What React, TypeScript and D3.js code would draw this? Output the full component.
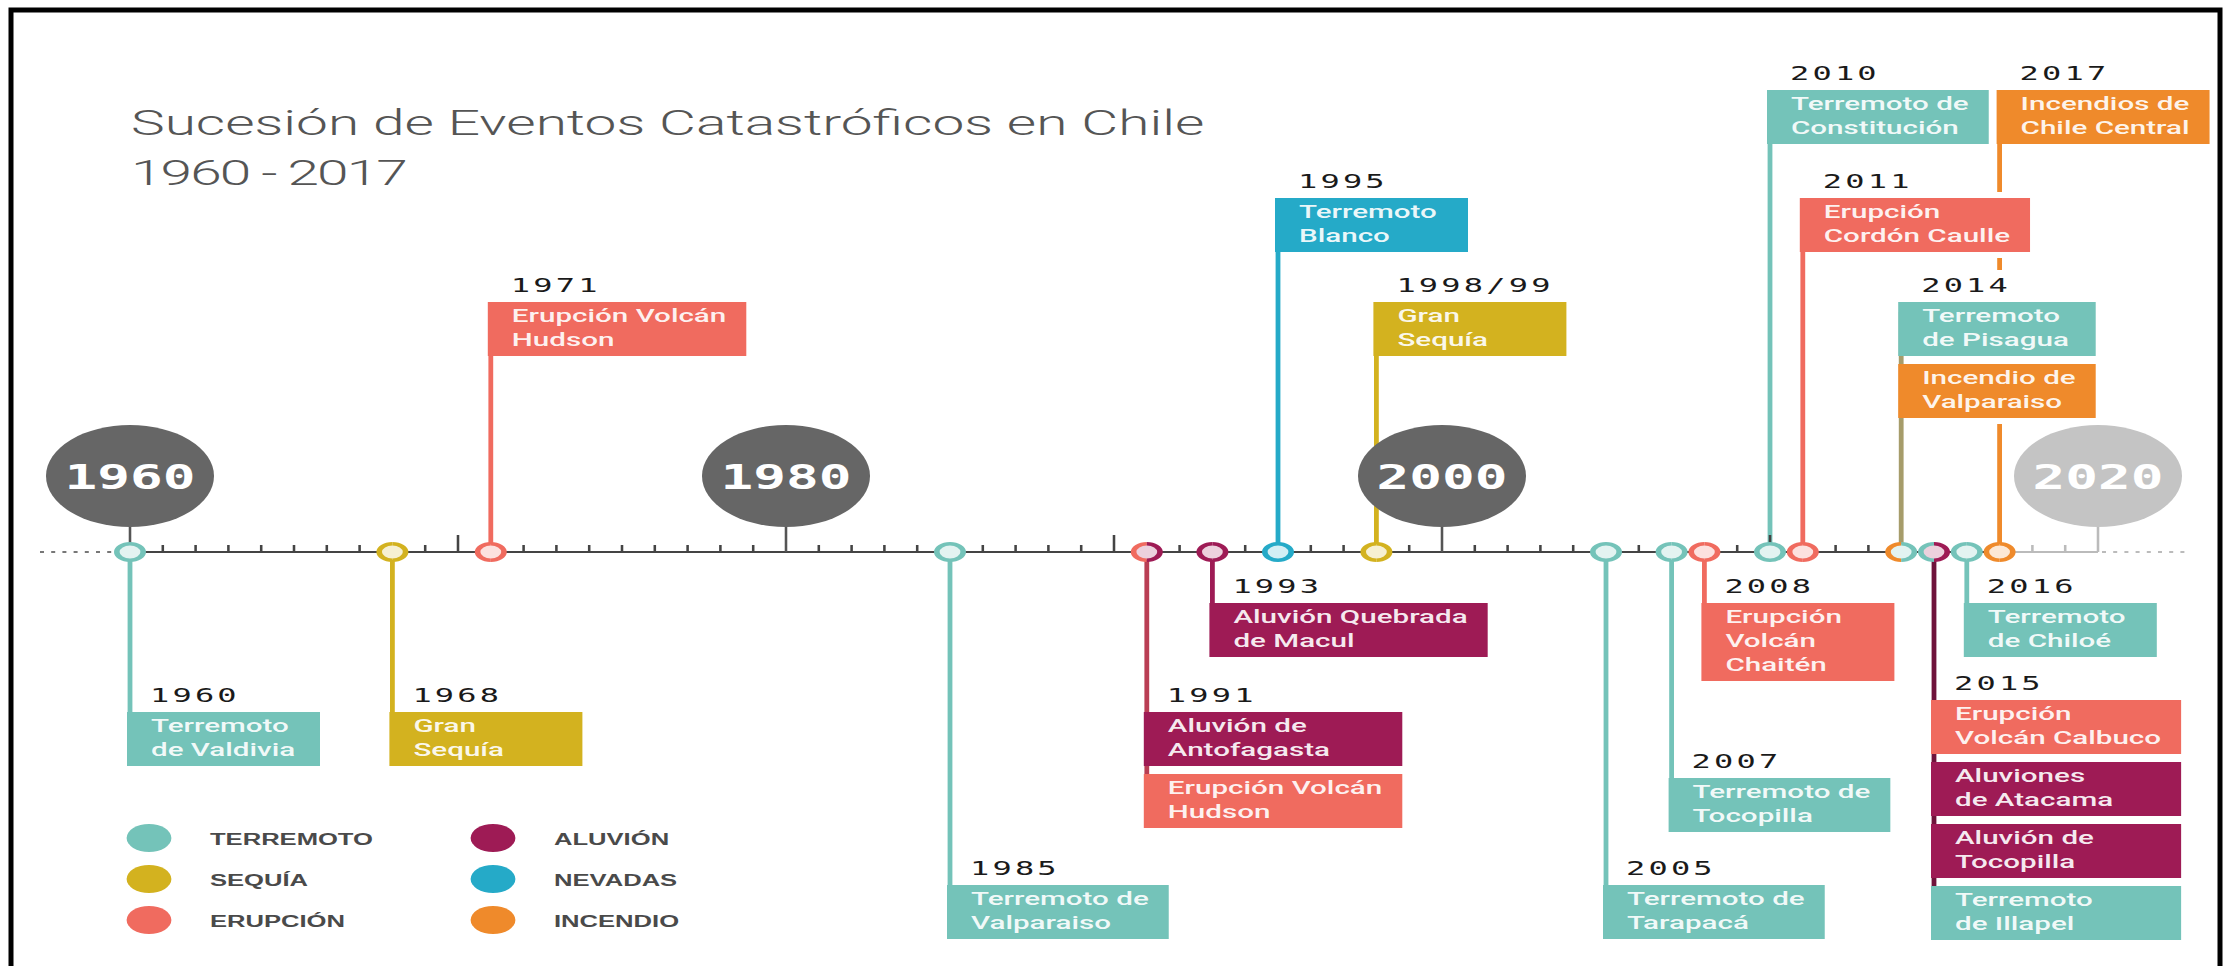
import React, { useRef, useEffect } from "react"
import * as d3 from "d3"

// the reference is stretched horizontally, so everything is drawn in a group scaled by SX
const W = 2223
const H = 966
const SX = 1.6

// categories
const categories = ["terremoto", "sequia", "erupcion", "aluvion", "nevadas", "incendio"]
const categoryNames = ["TERREMOTO", "SEQUÍA", "ERUPCIÓN", "ALUVIÓN", "NEVADAS", "INCENDIO"]
const categoryColors = ["#74c3b9", "#d3b21f", "#f06b5f", "#9e1b55", "#25aac8", "#ef8a2b"]

// events
const eventYears = [1960, 1968, 1971, 1985, 1991, 1993, 1995, 1998, 2005, 2007, 2008, 2010, 2011, 2014, 2015, 2016, 2017]
const yearLabels = ["1960", "1968", "1971", "1985", "1991", "1993", "1995", "1998/99", "2005", "2007", "2008", "2010", "2011", "2014", "2015", "2016", "2017"]
const eventTypes = [
  ["terremoto"],
  ["sequia"],
  ["erupcion"],
  ["terremoto"],
  ["aluvion", "erupcion"],
  ["aluvion"],
  ["nevadas"],
  ["sequia"],
  ["terremoto"],
  ["terremoto"],
  ["erupcion"],
  ["terremoto"],
  ["erupcion"],
  ["terremoto", "incendio"],
  ["erupcion", "aluvion", "aluvion", "terremoto"],
  ["terremoto"],
  ["incendio"],
]
const eventTexts = [
  [["Terremoto", "de Valdivia"]],
  [["Gran", "Sequía"]],
  [["Erupción Volcán", "Hudson"]],
  [["Terremoto de", "Valparaiso"]],
  [["Aluvión de", "Antofagasta"], ["Erupción Volcán", "Hudson"]],
  [["Aluvión Quebrada", "de Macul"]],
  [["Terremoto", "Blanco"]],
  [["Gran", "Sequía"]],
  [["Terremoto de", "Tarapacá"]],
  [["Terremoto de", "Tocopilla"]],
  [["Erupción", "Volcán", "Chaitén"]],
  [["Terremoto de", "Constitución"]],
  [["Erupción", "Cordón Caulle"]],
  [["Terremoto", "de Pisagua"], ["Incendio de", "Valparaiso"]],
  [["Erupción", "Volcán Calbuco"], ["Aluviones", "de Atacama"], ["Aluvión de", "Tocopilla"], ["Terremoto", "de Illapel"]],
  [["Terremoto", "de Chiloé"]],
  [["Incendios de", "Chile Central"]],
]

const decadeYears = [1960, 1980, 2000, 2020]
const titleLines = ["Sucesión de Eventos Catastróficos en Chile", "1960 - 2017"]

// layout (pixels of the picture)
const AXIS_Y = 552
const tierTop = [90, 198, 302, 603, 700, 712, 778, 885]
const eventTier = [5, 5, 2, 7, 5, 3, 1, 2, 7, 6, 3, 0, 1, 2, 4, 3, 0]
const LINE_H = 24
const BOX_PAD = 6
const BOX_GAP = 8

const App: React.FC = () => {
  const svgRef = useRef<SVGSVGElement | null>(null)

  useEffect(() => {
    if (!svgRef.current) return
    const svg = d3.select(svgRef.current)
    svg.selectAll("*").remove()

    const u = (v: number) => v / SX
    const color = d3.scaleOrdinal<string, string>().domain(categories).range(categoryColors)
    const x = d3.scaleLinear().domain([1960, 2020]).range([u(130), u(2098)])

    svg.append("rect").attr("width", W).attr("height", H).attr("fill", "#fff")

    // frame
    svg
      .append("path")
      .attr("d", `M11,${H} L11,10 L2220,10 L2220,${H}`)
      .attr("fill", "none")
      .attr("stroke", "#000")
      .attr("stroke-width", 5)

    const g = svg.append("g").attr("transform", `scale(${SX},1)`)

    // title
    const title = g
      .append("text")
      .attr("font-family", "Roboto")
      .attr("font-weight", 300)
      .attr("font-size", 35.5)
      .attr("fill", "#555")
    titleLines.forEach((t, i) => {
      title
        .append("tspan")
        .attr("x", u(131))
        .attr("y", 135 + i * 50)
        .attr("letter-spacing", i === 0 ? 0 : -1.2)
        .text(t)
    })

    // text measuring
    const boxFont = (s: d3.Selection<SVGTextElement, unknown, null, undefined>) =>
      s.attr("font-family", "Roboto").attr("font-weight", 500).attr("font-size", 18.5)
    const labelFont = (s: d3.Selection<SVGTextElement, unknown, null, undefined>) =>
      s.attr("font-family", "DejaVu Sans Mono").attr("font-size", 20).attr("letter-spacing", 2)
    const measure = (t: string, font: typeof boxFont) => {
      const el = g.append("text").call(font).text(t)
      const w = (el.node() as SVGTextElement).getComputedTextLength()
      el.remove()
      return w
    }

    const groups = eventYears.map((year, i) => {
      const tier = eventTier[i]
      const above = tier < 3
      const boxes = eventTypes[i].map((cat, j) => ({ cat, lines: eventTexts[i][j], y: 0, h: 0 }))
      let y = tierTop[tier]
      boxes.forEach((b) => {
        b.y = y
        b.h = BOX_PAD + b.lines.length * LINE_H
        y += b.h + BOX_GAP
      })
      const textW = d3.max(boxes.flatMap((b) => b.lines.map((l) => measure(l, boxFont)))) || 0
      const width = Math.max(u(193), textW + u(44))
      const counts = d3.rollups(boxes, (v) => v.length, (b) => b.cat).sort((a, b) => b[1] - a[1])
      const tied = counts.filter((c) => c[1] === counts[0][1])
      const stemColor =
        tied.length > 1
          ? d3.rgb(d3.interpolateRgb(color(tied[0][0]), color(tied[1][0]))(0.5)).darker(0.2).toString()
          : d3.rgb(color(counts[0][0])).darker(counts[0][1] > 1 ? 1 : 0).toString()
      return {
        year,
        label: yearLabels[i],
        tier,
        above,
        boxes,
        width,
        labelW: measure(yearLabels[i], labelFont),
        stemColor,
        leftCat: boxes[boxes.length - 1].cat,
        rightCat: counts[0][0],
      }
    })

    // far tiers first so nearer labels hide the stems that pass behind them
    const order = groups
      .slice()
      .sort((a, b) => Math.abs(tierTop[b.tier] - AXIS_Y) - Math.abs(tierTop[a.tier] - AXIS_Y))

    order.forEach((d) => {
      const cx = x(d.year)
      const left = cx - u(3)
      const first = d.boxes[0]
      const last = d.boxes[d.boxes.length - 1]
      const gg = g.append("g")

      gg.append("rect")
        .attr("x", left - u(6))
        .attr("y", first.y - 32)
        .attr("width", d.labelW + u(23) + u(14))
        .attr("height", 32)
        .attr("fill", "#fff")
      gg.append("rect")
        .attr("x", left - u(6))
        .attr("y", first.y - 6)
        .attr("width", d.width + u(12))
        .attr("height", last.y + last.h - first.y + 12)
        .attr("fill", "#fff")

      const far = d.above ? first : last
      gg.append("line")
        .attr("x1", cx)
        .attr("x2", cx)
        .attr("y1", AXIS_Y)
        .attr("y2", far.y + 10)
        .attr("stroke", d.stemColor)
        .attr("stroke-width", 3)

      d.boxes.forEach((b) => {
        gg.append("rect")
          .attr("x", left)
          .attr("y", b.y)
          .attr("width", d.width)
          .attr("height", b.h)
          .attr("fill", color(b.cat))
        b.lines.forEach((l, k) => {
          gg.append("text")
            .call(boxFont)
            .attr("x", left + u(24))
            .attr("y", b.y + 20 + k * LINE_H)
            .attr("fill", "#fff")
            .attr("fill-opacity", 0.92)
            .text(l)
        })
      })

      gg.append("text")
        .call(labelFont)
        .attr("x", left + u(23))
        .attr("y", first.y - 10)
        .attr("fill", "#1a1a1a")
        .text(d.label)
    })

    // axis
    const dots = "2.5 4.5"
    g.append("line")
      .attr("x1", u(40))
      .attr("x2", x(1960))
      .attr("y1", AXIS_Y)
      .attr("y2", AXIS_Y)
      .attr("stroke", "#777")
      .attr("stroke-width", 2)
      .attr("stroke-dasharray", dots)
    g.append("line")
      .attr("x1", x(1960))
      .attr("x2", x(2017))
      .attr("y1", AXIS_Y)
      .attr("y2", AXIS_Y)
      .attr("stroke", "#444")
      .attr("stroke-width", 2)
    g.append("line")
      .attr("x1", x(2017))
      .attr("x2", x(2020))
      .attr("y1", AXIS_Y)
      .attr("y2", AXIS_Y)
      .attr("stroke", "#bbb")
      .attr("stroke-width", 2)
    g.append("line")
      .attr("x1", x(2020) + u(4))
      .attr("x2", u(2190))
      .attr("y1", AXIS_Y)
      .attr("y2", AXIS_Y)
      .attr("stroke", "#bbb")
      .attr("stroke-width", 2)
      .attr("stroke-dasharray", dots)

    const ticks = d3.range(1961, 2020).filter((y) => y % 20 !== 0)
    g.selectAll(".tick")
      .data(ticks)
      .enter()
      .append("line")
      .attr("x1", (d) => x(d))
      .attr("x2", (d) => x(d))
      .attr("y1", AXIS_Y)
      .attr("y2", (d) => AXIS_Y - (d % 10 === 0 ? 17 : 7))
      .attr("stroke", (d) => (d > 2017 ? "#bbb" : "#444"))
      .attr("stroke-width", 1.6)

    // decade bubbles
    decadeYears.forEach((y) => {
      const fill = y === 2020 ? "#c4c4c4" : "#666"
      g.append("line")
        .attr("x1", x(y))
        .attr("x2", x(y))
        .attr("y1", AXIS_Y)
        .attr("y2", 500)
        .attr("stroke", y === 2020 ? "#bbb" : "#555")
        .attr("stroke-width", 1.6)
      g.append("ellipse")
        .attr("cx", x(y))
        .attr("cy", 476)
        .attr("rx", u(84))
        .attr("ry", 51)
        .attr("fill", fill)
      g.append("text")
        .attr("x", x(y))
        .attr("y", 489)
        .attr("text-anchor", "middle")
        .attr("font-family", "DejaVu Sans Mono")
        .attr("font-weight", 700)
        .attr("font-size", 34)
        .attr("fill", "#fff")
        .text(String(y))
    })

    // event rings on the axis
    const ringR = 10
    const halfArc = d3.arc<{ s: number; e: number }>()
      .innerRadius(ringR - 3.5)
      .outerRadius(ringR)
      .startAngle((d) => d.s)
      .endAngle((d) => d.e)
    groups.forEach((d) => {
      const rg = g.append("g").attr("transform", `translate(${x(d.year)},${AXIS_Y})`)
      rg.append("circle")
        .attr("r", ringR - 2)
        .attr("fill", d3.interpolateRgb(color(d.rightCat), "#fff")(0.8))
      rg.append("path").attr("d", halfArc({ s: Math.PI, e: 2 * Math.PI })).attr("fill", color(d.leftCat))
      rg.append("path").attr("d", halfArc({ s: 0, e: Math.PI })).attr("fill", color(d.rightCat))
    })

    // legend
    categories.forEach((c, i) => {
      const col = Math.floor(i / 3)
      const row = i % 3
      const lx = u(col === 0 ? 149 : 493)
      const ly = 838 + row * 41
      g.append("circle").attr("cx", lx).attr("cy", ly).attr("r", 14).attr("fill", color(c))
      g.append("text")
        .attr("x", lx + u(61))
        .attr("y", ly + 7)
        .attr("font-family", "Liberation Sans")
        .attr("font-weight", 700)
        .attr("font-size", 16)
        .attr("fill", "#4a4a4a")
        .text(categoryNames[i])
    })
  }, [])

  return (
    <svg
      ref={svgRef}
      width={W}
      height={H}
      style={{ position: "absolute", left: 0, top: 0, background: "#fff" }}
    ></svg>
  )
}

export default App
